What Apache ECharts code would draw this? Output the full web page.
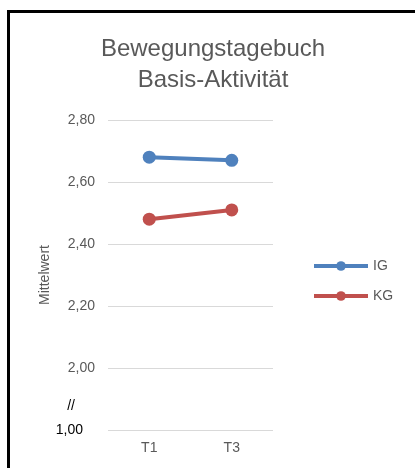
<!DOCTYPE html>
<html>
<head>
<meta charset="utf-8">
<style>
  html, body { margin: 0; padding: 0; background: #fff; }
  #chart { width: 415px; height: 468px; }
</style>
<script src="https://cdn.jsdelivr.net/npm/echarts@6/dist/echarts.min.js"></script>
</head>
<body>
<div id="chart"></div>
<script>
// Measurement times and group means
const categories = ['T1', 'T3'];
const seriesIG = [2.68, 2.67];
const seriesKG = [2.48, 2.51];
// Axis: 1,80 slot stands for the broken-off 1,00, 1,90 for the break mark
const tickLabels = { 18: '{b|1,00}', 19: '{c|//}', 20: '2,00', 22: '2,20', 24: '2,40', 26: '2,60', 28: '2,80' };

const font = '"Liberation Sans", Arial, sans-serif';
const grey = '#595959';

const chart = echarts.init(document.getElementById('chart'), null, { renderer: 'canvas' });
chart.setOption({
  animation: false,
  textStyle: { fontFamily: font },
  title: {
    text: 'Bewegungstagebuch\nBasis-Aktivität',
    left: 208, textAlign: 'center', top: 29,
    textStyle: { fontFamily: font, fontSize: 24, fontWeight: 'normal', color: grey, lineHeight: 31 }
  },
  legend: {
    orient: 'vertical', left: 307, top: 254,
    itemWidth: 54, itemHeight: 12, itemGap: 16,
    lineStyle: { width: 4 },
    textStyle: { fontFamily: font, fontSize: 14, color: grey },
    data: ['IG', 'KG']
  },
  grid: { left: 108, right: 142, top: 120, bottom: 38 },
  xAxis: {
    type: 'category', data: categories, boundaryGap: true,
    axisLine: { show: false }, axisTick: { show: false },
    axisLabel: { fontFamily: font, fontSize: 14, color: grey, margin: 11 }
  },
  yAxis: {
    type: 'value', min: 1.8, max: 2.8, interval: 0.1,
    name: 'Mittelwert', nameLocation: 'middle', nameGap: 50, nameRotate: 90,
    nameTextStyle: { fontFamily: font, fontSize: 14, color: grey },
    axisLine: { show: false }, axisTick: { show: false },
    axisLabel: {
      fontFamily: font, fontSize: 14, color: grey, margin: 13,
      formatter: v => tickLabels[Math.round(v * 10)] || '',
      rich: {
        b: { fontFamily: font, fontSize: 14, color: '#000', padding: [0, 12, 0, 0] },
        c: { fontFamily: font, fontSize: 14, color: '#000', padding: [14, 20, 0, 0] }
      }
    },
    splitLine: { show: true, lineStyle: { color: ['#d9d9d9', 'rgba(0,0,0,0)'], width: 1 } }
  },
  series: [
    {
      name: 'IG', type: 'line', data: seriesIG,
      symbol: 'circle', symbolSize: 13,
      lineStyle: { width: 4, color: '#4f81bd' },
      itemStyle: { color: '#4f81bd' }
    },
    {
      name: 'KG', type: 'line', data: seriesKG,
      symbol: 'circle', symbolSize: 13,
      lineStyle: { width: 4, color: '#c0504d' },
      itemStyle: { color: '#c0504d' }
    }
  ],
  graphic: [{
    type: 'polyline', silent: true,
    shape: { points: [[8.5, 468], [8.5, 11.5], [415, 11.5]] },
    style: { stroke: '#000', lineWidth: 3, fill: null }
  }]
});
</script>
</body>
</html>
